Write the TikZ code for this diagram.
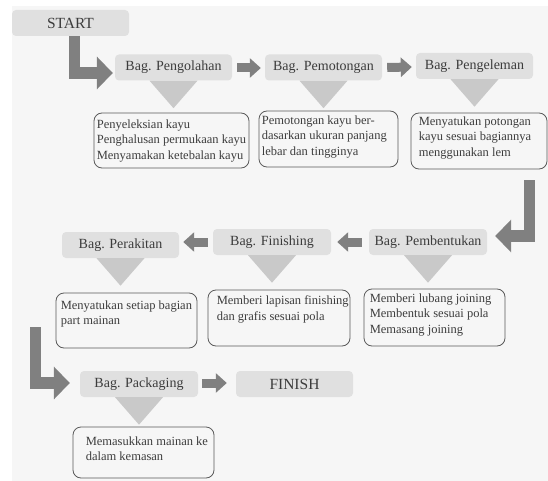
\documentclass[tikz,border=0pt]{standalone}
\usepackage{fontspec}
\setmainfont{Liberation Serif}
\usetikzlibrary{calc,arrows.meta}
\definecolor{bgc}{HTML}{F6F6F6}
\definecolor{boxc}{HTML}{E0E0E0}
\definecolor{tric}{HTML}{C9C9C9}
\definecolor{arrc}{HTML}{808080}
\definecolor{txtc}{HTML}{3C3C3C}
\definecolor{brdc}{HTML}{5A5A5A}
\tikzset{
  stagebox/.style={rectangle, rounded corners=4pt, fill=boxc, minimum width=117pt, minimum height=26pt, inner sep=0pt, text=txtc, font=\fontsize{14}{16}\selectfont},
  endbox/.style={stagebox, font=\fontsize{15.5}{18}\selectfont},
  descbox/.style={rectangle, rounded corners=8pt, draw=brdc, line width=0.8pt, inner sep=0pt},
  desctext/.style={anchor=north west, inner sep=0pt, align=left, text=txtc, font=\fontsize{12.5}{15.5}\selectfont},
  fatarrow/.style={draw=arrc, line width=11.5pt, line join=miter, line cap=butt, -{Triangle[length=16pt,width=32pt]}},
  smallarrow/.style={draw=arrc, line width=9pt, line cap=butt, -{Triangle[length=11pt,width=19pt]}},
  tri/.style={fill=tric}
}
\begin{document}
\begin{tikzpicture}[x=1pt,y=-1pt]
\useasboundingbox (0,0) rectangle (548,481);
\fill[white] (0,0) rectangle (548,481);
\fill[bgc] (12,6) rectangle (548,481);

% stage boxes
\node[endbox]   (start)  at (70.5,23)   {START};
\node[stagebox] (peng)   at (173.5,67.5) {Bag. Pengolahan};
\node[stagebox] (pemo)   at (323.5,67.5) {Bag. Pemotongan};
\node[stagebox] (pengel) at (474.5,66)  {Bag. Pengeleman};
\node[stagebox, minimum width=118pt] (pemb) at (428,242) {Bag. Pembentukan};
\node[stagebox, minimum width=118pt] (fin)  at (272,242) {Bag. Finishing};
\node[stagebox] (perak)  at (120.5,245) {Bag. Perakitan};
\node[stagebox, minimum width=118pt] (pack) at (139,384) {Bag. Packaging};
\node[endbox]   (finish) at (294.5,384) {FINISH};

% triangles below stages
\foreach \n in {peng,pemo,pengel,pemb,fin,perak,pack}{
  \fill[tri] ($(\n.south)+(-24,0)$) -- ($(\n.south)+(24,0)$) -- ($(\n.south)+(0,27.5)$) -- cycle;
}

% description boxes
\node[descbox, minimum width=155pt, minimum height=55pt] (d1) at (171.5,140.5) {};
\node[descbox, minimum width=139pt, minimum height=56pt] (d2) at (328.5,139) {};
\node[descbox, minimum width=136pt, minimum height=56pt] (d3) at (479,141) {};
\node[descbox, minimum width=141pt, minimum height=57pt] (d4) at (434.5,317.5) {};
\node[descbox, minimum width=142pt, minimum height=56pt] (d5) at (279,318) {};
\node[descbox, minimum width=141pt, minimum height=55pt] (d6) at (126.5,320.5) {};
\node[descbox, minimum width=141pt, minimum height=51pt] (d7) at (143.5,452.5) {};

\node[desctext] (t1) at ($(d1.north west)+(3,7)$) {Penyeleksian kayu\\Penghalusan permukaan kayu\\Menyamakan ketebalan kayu};
\node[desctext] (t2) at ($(d2.north west)+(3,5)$) {Pemotongan kayu ber-\\dasarkan ukuran panjang\\lebar dan tingginya};
\node[desctext] (t3) at ($(d3.north west)+(8,4)$) {Menyatukan potongan\\kayu sesuai bagiannya\\menggunakan lem};
\node[desctext] (t4) at ($(d4.north west)+(6,5)$) {Memberi lubang joining\\Membentuk sesuai pola\\Memasang joining};
\node[desctext] (t5) at ($(d5.north west)+(9,6)$) {Memberi lapisan finishing\\dan grafis sesuai pola};
\node[desctext] (t6) at ($(d6.north west)+(5,8)$) {Menyatukan setiap bagian\\part mainan};
\node[desctext] (t7) at ($(d7.north west)+(13,10)$) {Memasukkan mainan ke\\dalam kemasan};

% fat L arrows
\coordinate (c1) at ($(start.south)+(4,0)$);
\draw[fatarrow] (c1) |- ($(peng.west)+(-2,5.5)$);
\coordinate (c2) at (529.5,180);
\draw[fatarrow] (c2) |- ($(pemb.east)+(8,-6)$);
\coordinate (c3) at (35.5,327);
\draw[fatarrow] (c3) |- ($(pack.west)+(-10,-1)$);

% small arrows
\draw[smallarrow] ($(peng.east)+(5,0.5)$) -- ($(pemo.west)+(-4,0.5)$);
\draw[smallarrow] ($(pemo.east)+(5,0)$) -- ($(pengel.west)+(-4,1)$);
\draw[smallarrow] ($(pemb.west)+(-7,0)$) -- ($(fin.east)+(6,0)$);
\draw[smallarrow] ($(fin.west)+(-5,0)$) -- ($(perak.east)+(4,-3)$);
\draw[smallarrow] ($(pack.east)+(4,-1)$) -- ($(finish.west)+(-9,-1)$);
\end{tikzpicture}
\end{document}
